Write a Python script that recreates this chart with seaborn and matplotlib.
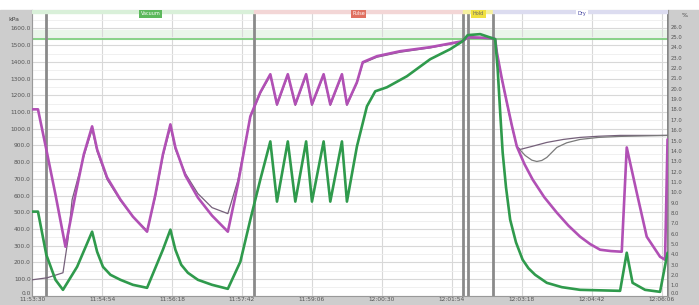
import pandas as pd
import matplotlib.pyplot as plt
import matplotlib.patches as mpatches
import seaborn as sns
from datetime import datetime, timedelta

# =========================
# DATA (time in s from 11:53:30, pressure in kPa)
# =========================
green_t = [0, 7, 17, 28, 37, 54, 72, 78, 85, 94, 106, 121, 138, 157, 166, 172, 179, 187,
           199, 216, 235, 250, 262, 274, 286, 294, 307, 316, 329, 336, 350, 358, 372, 378,
           390, 402, 412, 426, 450, 478, 502, 517, 523, 538, 556, 559, 562, 565, 569, 574,
           581, 589, 596, 604, 618, 636, 658, 706, 714, 721, 736, 754, 763]
green_p = [504, 504, 246, 96, 36, 174, 384, 264, 174, 126, 96, 66, 48, 276, 396, 276, 186, 138,
           96, 66, 42, 204, 456, 696, 924, 564, 924, 564, 924, 564, 924, 564, 924, 564,
           894, 1134, 1224, 1248, 1314, 1416, 1476, 1524, 1560, 1566, 1536, 1356, 1100, 858, 650, 456,
           320, 216, 165, 126, 78, 52, 36, 30, 258, 78, 36, 24, 258]

magenta_t = [0, 7, 17, 28, 40, 52, 62, 72, 78, 90, 106, 121, 138, 148, 157, 166, 172, 184,
             199, 216, 235, 247, 262, 274, 286, 294, 307, 316, 329, 336, 350, 358, 372, 378,
             390, 397, 414, 442, 478, 517, 523, 553, 556, 558, 564, 570, 576, 582, 591, 601,
             615, 630, 644, 658, 670, 682, 695, 708, 714, 726, 738, 754, 760, 763]
magenta_p = [1116, 1116, 876, 606, 294, 606, 846, 1014, 876, 708, 576, 474, 384, 606, 846, 1026, 888, 720,
             588, 480, 384, 666, 1074, 1218, 1326, 1146, 1326, 1146, 1326, 1146, 1326, 1146, 1326, 1146,
             1278, 1398, 1434, 1464, 1488, 1524, 1548, 1542, 1536, 1458, 1300, 1158, 1020, 894, 790, 696,
             590, 498, 420, 354, 310, 276, 268, 264, 888, 618, 354, 234, 216, 936]

grey_a_t = [0, 18, 37, 43, 48, 62, 72, 78, 90, 106, 121, 138, 148, 157, 166, 172, 184, 199,
            216, 235, 247, 262, 274, 286, 294, 307, 316, 329, 336, 350, 358, 372, 378, 390,
            397, 414, 442, 478, 517, 523, 553, 556, 558, 564, 570, 576, 582, 586, 600, 618,
            638, 658, 680, 706, 763]
grey_a_p = [96, 108, 138, 336, 576, 834, 996, 864, 696, 570, 474, 390, 594, 834, 1008, 876, 732, 612,
            528, 492, 690, 1070, 1212, 1318, 1140, 1318, 1140, 1318, 1140, 1318, 1140, 1318, 1140, 1272,
            1392, 1428, 1458, 1484, 1520, 1544, 1538, 1532, 1452, 1296, 1152, 1016, 894, 876, 894, 918,
            936, 948, 955, 960, 960]

grey_b_t = [556, 558, 564, 570, 576, 582, 592, 600, 606, 612, 618, 624, 630, 642, 658, 680, 706, 763]
grey_b_p = [1536, 1458, 1300, 1158, 1020, 894, 840, 812, 804, 810, 828, 858, 888, 916, 936, 948, 954, 960]

markers_t = [17, 266, 517, 523, 553]
stage_names = ["Vacuum", "Pulse", "Hold", "Dry"]
stage_pos = [142, 392, 536, 660]
stage_bounds = [0, 266, 517, 553, 763]

T_END = 763
start_time = datetime(2024, 1, 1, 11, 53, 30)
xticks = [0, 84, 168, 252, 336, 420, 504, 588, 672, 756]
xlabels = [(start_time + timedelta(seconds=s)).strftime("%H:%M:%S") for s in xticks]
yticks = list(range(0, 1700, 100))
rticks = list(range(0, 27))

df_green = pd.DataFrame({"t": green_t, "p": green_p})
df_mag = pd.DataFrame({"t": magenta_t, "p": magenta_p})
df_ga = pd.DataFrame({"t": grey_a_t, "p": grey_a_p})
df_gb = pd.DataFrame({"t": grey_b_t, "p": grey_b_p})

# =========================
# PLOT
# =========================
sns.set_style("white")
fig = plt.figure(figsize=(6.99, 3.05), dpi=100, facecolor="white")
# grey side panels
for rect in [(0, 0, 0.046, 0.967), (0.955, 0, 0.045, 0.967), (0, 0, 1, 0.03)]:
    fig.patches.append(mpatches.Rectangle(rect[:2], rect[2], rect[3], transform=fig.transFigure,
                                          color="#cdcdcd", zorder=-10))

ax = fig.add_axes([0.046, 0.03, 0.909, 0.937])
ax.set_facecolor("white")

ax.axhspan(1536, 1590, color="#eaf6ea", zorder=0)
ax.axhline(1536, color="#77cc77", lw=1.2, zorder=1)

for t in markers_t:
    ax.axvline(t, color="#8a8a8a", lw=2, zorder=2)
ax.axvline(T_END, color="#777777", lw=2, zorder=2)

sns.lineplot(data=df_ga, x="t", y="p", ax=ax, color="#75607a", lw=0.9, sort=False, estimator=None, zorder=3)
sns.lineplot(data=df_gb, x="t", y="p", ax=ax, color="#7a7a7a", lw=0.9, sort=False, estimator=None, zorder=3)
sns.lineplot(data=df_mag, x="t", y="p", ax=ax, color="#b150b5", lw=1.9, sort=False, estimator=None, zorder=4)
sns.lineplot(data=df_green, x="t", y="p", ax=ax, color="#2f9a4c", lw=1.9, sort=False, estimator=None, zorder=5)

ax.set_xlim(0, T_END)
ax.set_ylim(0, 1710)
ax.set_xticks(xticks)
ax.set_xticklabels(xlabels)
ax.set_yticks(yticks)
ax.set_yticklabels([f"{v:.1f}" for v in yticks])
ax.set_yticks(list(range(50, 1710, 100)), minor=True)
ax.tick_params(axis="both", which="both", labelsize=4.2, colors="#555555", length=0, pad=1)
ax.grid(True, which="major", color="#d8d8d8", lw=0.8)
ax.grid(True, which="minor", axis="y", color="#eeeeee", lw=0.6)
ax.get_yticklabels()[0].set_va("bottom")
ax.set_xlabel("")
ax.set_ylabel("")
for s in ax.spines.values():
    s.set_color("#999999")

# stage strip across top
strip = ["#d9f0d9", "#f3d6d6", "#f5f0a0", "#dcdcf0"]
boxes = ["#5cb85c", "#e07060", "#f0e040", "#ffffff"]
txtc = ["#ffffff", "#ffffff", "#666666", "#4040a0"]
for i in range(4):
    ax.axvspan(stage_bounds[i], stage_bounds[i + 1], ymin=0.99, ymax=1.0, color=strip[i], zorder=6)
    ax.text(stage_pos[i], 1688, stage_names[i], fontsize=3.5, ha="center", va="center",
            color=txtc[i], zorder=7,
            bbox=dict(boxstyle="square,pad=0.3", fc=boxes[i], ec="none"))

fig.text(0.012, 0.93, "kPa", fontsize=4.5, color="#444444")

# right axis
ax2 = ax.twinx()
ax2.set_ylim(0, 27.6)
ax2.set_yticks(rticks)
ax2.set_yticklabels([f"{v:.1f}" for v in rticks])
ax2.tick_params(axis="y", labelsize=3.8, colors="#555555", length=0, pad=2)
ax2.get_yticklabels()[0].set_va("bottom")
for s in ax2.spines.values():
    s.set_visible(False)
fig.text(0.975, 0.945, "%", fontsize=4.5, color="#444444")

plt.savefig("out.png", dpi=100)
plt.close()
